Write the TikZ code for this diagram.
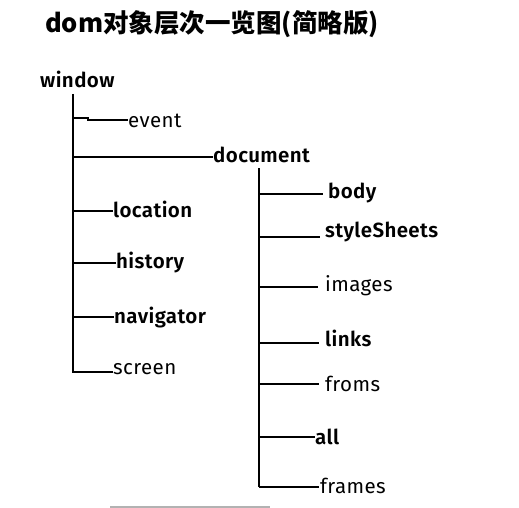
\documentclass[tikz,border=0pt]{standalone}
\usepackage{fontspec}
\setmainfont{Fira Sans}[BoldFont=* SemiBold,LetterSpace=2]
\newfontfamily\cjk{Noto Sans CJK SC}
\begin{document}
\begin{tikzpicture}[x=1pt,y=-1pt,
  lbl/.style={anchor=base west,inner sep=0pt,font=\fontsize{20.5}{24}\selectfont},
  lblb/.style={lbl,font=\fontsize{20.5}{24}\selectfont\bfseries},
  trunk/.style={line width=1.6pt},
  branch/.style={line width=1.1pt}]
\useasboundingbox (0,0) rectangle (519,508);
% title
\node[anchor=base west,inner sep=0pt,font=\cjk\fontsize{25.5}{30}\selectfont\bfseries] (title) at (45,33) {dom对象层次一览图(简略版)};
% window level
\node[lblb] (window) at (40,88) {window};
\coordinate (wt) at (73,94);
\coordinate (wb) at (73,373);
\draw[trunk] (wt) -- (wb);
\node[lbl] (event) at (128,128) {event};
\node[lblb] (document) at (213,162) {document};
\node[lblb] (location) at (113,217) {location};
\node[lblb] (history) at (116,268) {history};
\node[lblb] (navigator) at (114,323) {navigator};
\node[lbl] (screen) at (113,374) {screen};
\coordinate (e1) at (73,118);
\coordinate (e2) at (88,118);
\coordinate (e3) at (88,120);
\draw[branch] (e1) -- (e2) -- (e3) -- (event.west |- e3);
\coordinate (d1) at (73,157);
\draw[branch] (d1) -- (document.west |- d1);
\coordinate (l1) at (73,211);
\draw[branch] (l1) -- (location.west |- l1);
\coordinate (h1) at (73,263);
\draw[branch] (h1) -- (history.west |- h1);
\coordinate (n1) at (73,317);
\draw[branch] (n1) -- (navigator.west |- n1);
\coordinate (s1) at (73,372);
\draw[branch] (s1) -- (screen.west |- s1);
% document level
\coordinate (dt) at (259,168);
\coordinate (db) at (259,487);
\draw[trunk] (dt) -- (db);
\node[lblb] (body) at (328,198) {body};
\node[lblb] (styleSheets) at (325,237) {styleSheets};
\node[lbl] (images) at (325,291) {images};
\node[lblb] (links) at (325,346) {links};
\node[lbl] (froms) at (325,391) {froms};
\node[lblb] (all) at (315,444) {all};
\node[lbl] (frames) at (320,493) {frames};
\coordinate (b1) at (259,194);
\draw[branch] (b1) -- ([xshift=-5pt]body.west |- b1);
\coordinate (ss1) at (259,237);
\draw[branch] (ss1) -- ([xshift=-5pt]styleSheets.west |- ss1);
\coordinate (i1) at (259,287);
\draw[branch] (i1) -- ([xshift=-7pt]images.west |- i1);
\coordinate (k1) at (259,343);
\draw[branch] (k1) -- ([xshift=-6pt]links.west |- k1);
\coordinate (f1) at (259,384);
\draw[branch] (f1) -- ([xshift=-6pt]froms.west |- f1);
\coordinate (a1) at (259,437);
\draw[line width=1.5pt] (a1) -- (all.west |- a1);
\coordinate (fr1) at (259,487);
\draw[branch] (fr1) -- ([xshift=-1pt]frames.west |- fr1);
% scan edge
\fill[black!30] (110,506) rectangle (270,508);
\end{tikzpicture}
\end{document}
